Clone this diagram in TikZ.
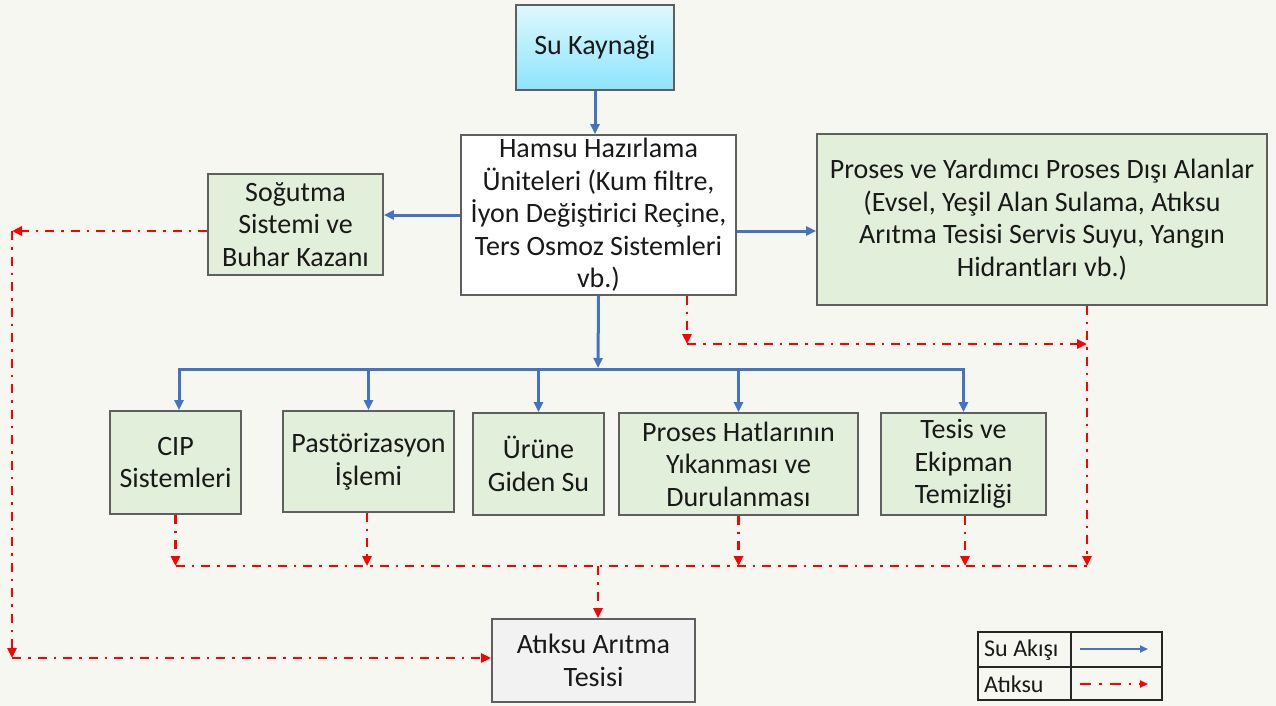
\documentclass[tikz,border=0pt]{standalone}
\usepackage{fontspec}
\setmainfont{Carlito}
\usetikzlibrary{arrows.meta,calc}
\definecolor{bgc}{RGB}{247,247,242}
\definecolor{boxg}{RGB}{226,239,218}
\definecolor{boxb}{RGB}{95,95,95}
\definecolor{flowb}{RGB}{68,114,196}
\definecolor{wred}{RGB}{255,0,0}
\definecolor{greyf}{RGB}{242,242,242}
\tikzset{
  box/.style={draw=boxb,line width=1.8pt,fill=boxg,align=center,inner sep=0pt,
    font=\fontsize{28}{32.5}\selectfont,text=black!90},
  flow/.style={draw=flowb,line width=3pt,-{Triangle[length=10pt,width=9pt]}},
  waste/.style={draw=wred,line width=2.6pt,dash pattern=on 9pt off 7pt on 2.5pt off 7pt,
    -{Triangle[length=10pt,width=9pt]}},
  wasteline/.style={draw=wred,line width=2.6pt,dash pattern=on 9pt off 7pt on 2.5pt off 7pt},
  legtxt/.style={font=\fontsize{24}{26}\selectfont,anchor=west,inner sep=0pt,text=black!90}
}
\begin{document}
\begin{tikzpicture}[x=1pt,y=-1pt]
\useasboundingbox (0,0) rectangle (1276,706);
\fill[bgc] (0,0) rectangle (1276,706);

% nodes
\node[box,minimum width=158pt,minimum height=85pt,fill=none,
  top color={rgb,255:red,222;green,248;blue,253},bottom color={rgb,255:red,140;green,228;blue,252}]
  (su) at (595,47.5) {Su Kaynağı};
\node[box,fill=white,minimum width=275pt,minimum height=160pt] (ham) at (598.5,215)
  {Hamsu Hazırlama\\Üniteleri (Kum filtre,\\İyon Değiştirici Reçine,\\Ters Osmoz Sistemleri\\vb.)};
\node[box,minimum width=175pt,minimum height=101pt] (sog) at (295.5,224.5)
  {Soğutma\\Sistemi ve\\Buhar Kazanı};
\node[box,minimum width=450pt,minimum height=171pt] (pro) at (1042,219.5)
  {Proses ve Yardımcı Proses Dışı Alanlar\\(Evsel, Yeşil Alan Sulama, Atıksu\\Arıtma Tesisi Servis Suyu, Yangın\\Hidrantları vb.)};
\node[box,minimum width=131pt,minimum height=103pt] (cip) at (175.5,462.5) {CIP\\Sistemleri};
\node[box,minimum width=171pt,minimum height=101pt] (pas) at (368.5,461.5) {Pastörizasyon\\İşlemi};
\node[box,minimum width=131pt,minimum height=102pt] (uru) at (538.5,464) {Ürüne\\Giden Su};
\node[box,minimum width=239pt,minimum height=102pt] (phy) at (738.5,464)
  {Proses Hatlarının\\Yıkanması ve\\Durulanması};
\node[box,minimum width=165pt,minimum height=102pt] (tes) at (963.5,464)
  {Tesis ve\\Ekipman\\Temizliği};
\node[box,fill=greyf,minimum width=203pt,minimum height=83pt] (atk) at (593.5,660.5)
  {Atıksu Arıtma\\Tesisi};

% blue flows
\draw[flow] (su.south) -- (su.south |- ham.north);
\draw[flow] (ham.west) -- (ham.west -| sog.east);
\draw[flow] ($(ham.east)+(0,16)$) -- ($(ham.east -| pro.west)+(0,16)$);
\coordinate (bbus) at (598,369);
\draw[flow] (ham.south) -- ($(bbus)+(0,-1)$);
\draw[flow] (bbus) -| ($(cip.north)+(3.5,0)$);
\draw[flow] (bbus) -| (tes.north);
\draw[flow] (pas.north |- bbus) -- (pas.north);
\draw[flow] (uru.north |- bbus) -- (uru.north);
\draw[flow] (phy.north |- bbus) -- (phy.north);

% red waste
\coordinate (c1) at (12,231);
\coordinate (c2) at (12,658);
\draw[waste] (sog.west |- c1) -- (c1);
\draw[waste] (c1) -- (c2);
\draw[waste] (c2) -- (c2 -| atk.west);
\coordinate (c3) at (687,344);
\coordinate (c4) at (1087,344);
\draw[waste] (ham.south -| c3) -- (c3);
\draw[waste] (c3) -- (c4);
\coordinate (rb) at (598,566);
\draw[waste] (pro.south -| c4) -- (c4 |- rb);
\draw[wasteline] (cip.south |- rb) -- (c4 |- rb);
\draw[waste] (cip.south) -- (cip.south |- rb);
\draw[waste] ($(pas.south)+(-1.5,0)$) -- ($(pas.south |- rb)+(-1.5,0)$);
\draw[waste] (phy.south) -- (phy.south |- rb);
\draw[waste] ($(tes.south)+(1.5,0)$) -- ($(tes.south |- rb)+(1.5,0)$);
\draw[waste] (rb) -- (rb |- atk.north);

% legend
\draw[black!85,line width=1.4pt] (978,632) rectangle (1162,700);
\draw[black!85,line width=1.4pt] (978,667) -- (1162,667);
\draw[black!85,line width=1.4pt] (1071,632) -- (1071,700);
\node[legtxt] (l1) at (984,650) {Su Akışı};
\node[legtxt] (l2) at (984,684) {Atıksu};
\coordinate (la1) at (1080,649);
\coordinate (lb1) at (1148,649);
\coordinate (la2) at (1080,684);
\coordinate (lb2) at (1148,684);
\draw[draw=flowb,line width=2pt,-{Triangle[length=8pt,width=7pt]}] (la1) -- (lb1);
\draw[draw=wred,line width=2.6pt,dash pattern=on 11pt off 8pt on 2.5pt off 8pt,-{Triangle[length=8pt,width=7pt]}] (la2) -- (lb2);
\end{tikzpicture}
\end{document}
